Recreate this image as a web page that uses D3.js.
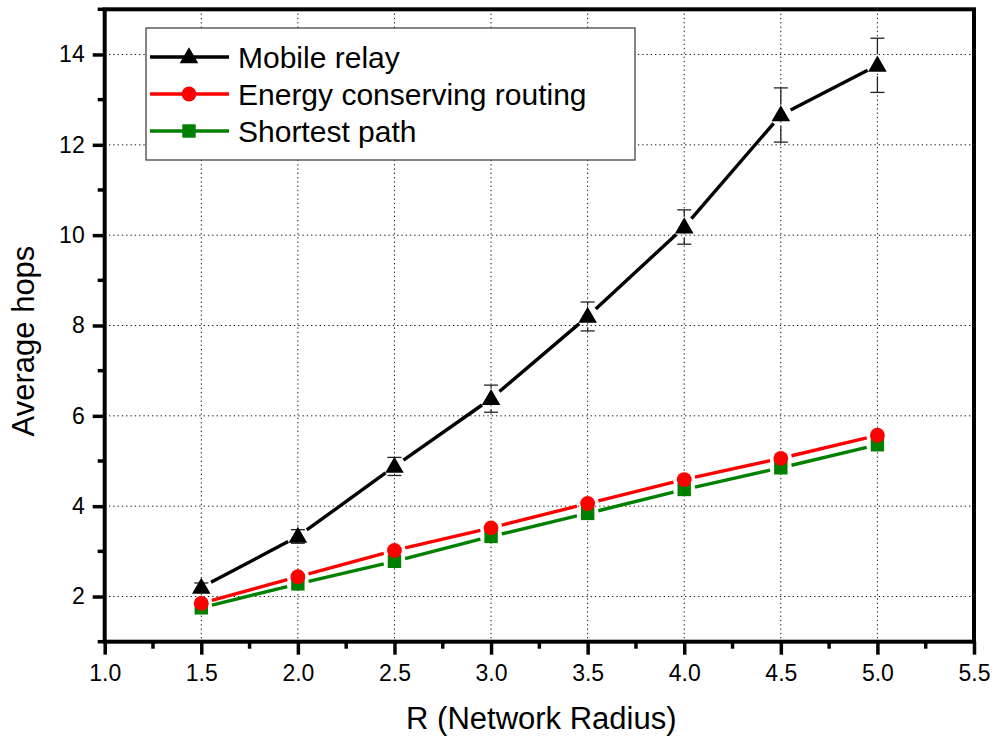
<!DOCTYPE html>
<html>
<head>
<meta charset="utf-8">
<script src="https://cdn.jsdelivr.net/npm/d3@7"></script>
<style>
  body { margin: 0; background: #fff; }
  text { font-family: Arial, "Liberation Sans", sans-serif; fill: #000; }
</style>
</head>
<body>
<div id="main"></div>
<script>
// data
var radius = [1.5, 2.0, 2.5, 3.0, 3.5, 4.0, 4.5, 5.0];
var mobileRelay = [2.2, 3.33, 4.88, 6.38, 8.2, 10.18, 12.66, 13.76];
var mobileRelayErr = [0.1, 0.15, 0.2, 0.3, 0.32, 0.38, 0.6, 0.6];
var energyRouting = [1.85, 2.44, 3.02, 3.52, 4.06, 4.59, 5.06, 5.57];
var shortestPath = [1.75, 2.28, 2.78, 3.33, 3.84, 4.37, 4.85, 5.36];
var xTicks = [1.0, 1.5, 2.0, 2.5, 3.0, 3.5, 4.0, 4.5, 5.0, 5.5];
var yTicks = [2, 4, 6, 8, 10, 12, 14];

var ctx = {
    w: 995,
    h: 742,
    left: 104.7,
    right: 974,
    top: 9.3,
    bottom: 641.7
};

var series = [
    { name: "Mobile relay", values: mobileRelay, err: mobileRelayErr, color: "#000", shape: "triangle" },
    { name: "Energy conserving routing", values: energyRouting, color: "#ff0000", shape: "circle" },
    { name: "Shortest path", values: shortestPath, color: "#008000", shape: "square" }
];

var svg = d3.select("#main").append("svg")
    .attr("width", ctx.w)
    .attr("height", ctx.h);

var x = d3.scaleLinear().domain([1.0, 5.5]).range([ctx.left, ctx.right]);
var y = d3.scaleLinear().domain([1, 15]).range([ctx.bottom, ctx.top]);

// dotted grid at major ticks
var grid = svg.append("g");
grid.selectAll("line.gx")
    .data(xTicks.slice(1, -1))
    .enter().append("line")
    .attr("x1", function(d){ return x(d); })
    .attr("x2", function(d){ return x(d); })
    .attr("y1", ctx.top).attr("y2", ctx.bottom)
    .attr("stroke", "#111").attr("stroke-width", 1)
    .attr("stroke-dasharray", "1.3,3");
grid.selectAll("line.gy")
    .data(yTicks)
    .enter().append("line")
    .attr("x1", ctx.left).attr("x2", ctx.right)
    .attr("y1", function(d){ return y(d); })
    .attr("y2", function(d){ return y(d); })
    .attr("stroke", "#111").attr("stroke-width", 1)
    .attr("stroke-dasharray", "1.3,3");

// axes (outward ticks)
var xAxis = d3.axisBottom(x).tickValues(xTicks).tickFormat(d3.format(".1f")).tickSize(13).tickPadding(8);
var yAxis = d3.axisLeft(y).tickValues(yTicks).tickFormat(d3.format("d")).tickSize(12).tickPadding(8);

var gx = svg.append("g").attr("transform", "translate(0," + ctx.bottom + ")").call(xAxis);
var gy = svg.append("g").attr("transform", "translate(" + ctx.left + ",0)").call(yAxis);
[gx, gy].forEach(function(g){
    g.select(".domain").remove();
    g.selectAll(".tick line").attr("stroke", "#000").attr("stroke-width", 3.5);
    g.selectAll(".tick text").style("font-size", "23px").attr("fill", "#000");
});
gx.selectAll(".tick text").attr("dy", "0.8em");

// minor ticks
svg.append("g").selectAll("line")
    .data(d3.range(1.25, 5.5, 0.5))
    .enter().append("line")
    .attr("x1", function(d){ return x(d); })
    .attr("x2", function(d){ return x(d); })
    .attr("y1", ctx.bottom).attr("y2", ctx.bottom + 7)
    .attr("stroke", "#000").attr("stroke-width", 3.5);
svg.append("g").selectAll("line")
    .data(d3.range(1, 16, 2))
    .enter().append("line")
    .attr("x1", ctx.left - 7).attr("x2", ctx.left)
    .attr("y1", function(d){ return y(d); })
    .attr("y2", function(d){ return y(d); })
    .attr("stroke", "#000").attr("stroke-width", 3.5);

// frame
svg.append("rect")
    .attr("x", ctx.left).attr("y", ctx.top)
    .attr("width", ctx.right - ctx.left)
    .attr("height", ctx.bottom - ctx.top)
    .attr("fill", "none").attr("stroke", "#000").attr("stroke-width", 4);

// marker drawing helper
function drawMarker(g, shape, cx, cy, color) {
    if (shape === "triangle") {
        g.append("path")
         .attr("d", d3.symbol().type(d3.symbolTriangle).size(150)())
         .attr("transform", "translate(" + cx + "," + (cy + 1) + ")")
         .attr("fill", color);
    } else if (shape === "circle") {
        g.append("circle").attr("cx", cx).attr("cy", cy).attr("r", 7.4).attr("fill", color);
    } else {
        g.append("rect").attr("x", cx - 6.7).attr("y", cy - 6.7)
         .attr("width", 13.4).attr("height", 13.4).attr("fill", color);
    }
}

var gap = 11;   // the line stops short of each marker
var plot = svg.append("g");

series.forEach(function(s){
    var pts = radius.map(function(r, i){ return [x(r), y(s.values[i])]; });
    // broken line segments
    for (var i = 0; i < pts.length - 1; i++) {
        var a = pts[i], b = pts[i + 1];
        var dx = b[0] - a[0], dy = b[1] - a[1];
        var len = Math.sqrt(dx * dx + dy * dy);
        var ux = dx / len, uy = dy / len;
        plot.append("line")
            .attr("x1", a[0] + ux * gap).attr("y1", a[1] + uy * gap)
            .attr("x2", b[0] - ux * gap).attr("y2", b[1] - uy * gap)
            .attr("stroke", s.color).attr("stroke-width", 3.4);
    }
    // error bars
    if (s.err) {
        s.err.forEach(function(e, i){
            var cx = x(radius[i]);
            var hi = y(s.values[i] + e), lo = y(s.values[i] - e), c = y(s.values[i]);
            var eg = plot.append("g").attr("stroke", "#222").attr("stroke-width", 1.3);
            if (c - hi > 11) eg.append("line").attr("x1", cx).attr("x2", cx).attr("y1", hi).attr("y2", c - 11);
            if (lo - c > 11) eg.append("line").attr("x1", cx).attr("x2", cx).attr("y1", c + 11).attr("y2", lo);
            eg.append("line").attr("x1", cx - 7).attr("x2", cx + 7).attr("y1", hi).attr("y2", hi);
            eg.append("line").attr("x1", cx - 7).attr("x2", cx + 7).attr("y1", lo).attr("y2", lo);
        });
    }
});
// markers on top, shortest path first so red circles overlap
[series[2], series[1], series[0]].forEach(function(s){
    radius.forEach(function(r, i){
        drawMarker(plot, s.shape, x(r), y(s.values[i]), s.color);
    });
});

// legend
var legend = svg.append("g");
legend.append("rect")
    .attr("x", 146).attr("y", 28).attr("width", 489).attr("height", 132)
    .attr("fill", "#fff").attr("stroke", "#444").attr("stroke-width", 1.3);
var rowY = [57, 94, 131];
series.forEach(function(s, i){
    legend.append("line")
        .attr("x1", 150).attr("x2", 229)
        .attr("y1", rowY[i]).attr("y2", rowY[i])
        .attr("stroke", s.color).attr("stroke-width", 3.4);
    drawMarker(legend, s.shape, 189, rowY[i], s.color);
    legend.append("text")
        .attr("x", 238).attr("y", rowY[i])
        .attr("dy", "0.36em")
        .style("font-size", "30px")
        .text(s.name);
});

// axis titles
svg.append("text")
    .attr("x", (ctx.left + ctx.right) / 2 + 2)
    .attr("y", 729)
    .attr("text-anchor", "middle")
    .style("font-size", "31px")
    .text("R (Network Radius)");
svg.append("text")
    .attr("transform", "translate(34," + 341 + ") rotate(-90)")
    .attr("text-anchor", "middle")
    .style("font-size", "31px")
    .text("Average hops");
</script>
</body>
</html>
